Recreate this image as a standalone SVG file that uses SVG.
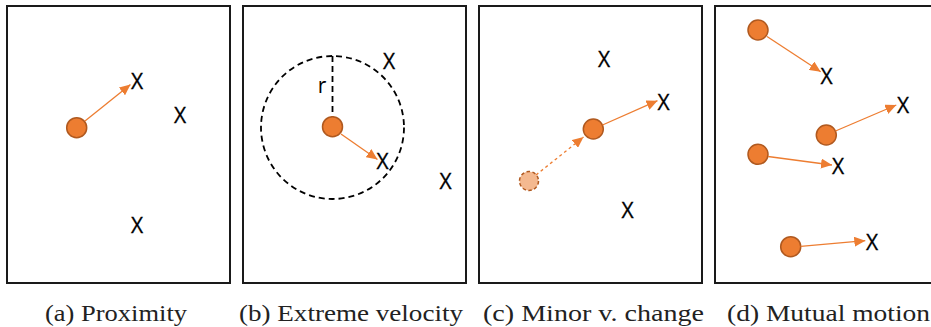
<svg xmlns="http://www.w3.org/2000/svg" width="931" height="327" viewBox="0 0 931 327">
<style>
.frame{fill:#fff;stroke:#1a1a1a;stroke-width:2}
.pt{fill:#ED7D31;stroke:#B0591F;stroke-width:1.5}
.ghost{fill:#F4B990;stroke:#B0591F;stroke-width:1.5;stroke-dasharray:3.5,2.5}
.arr{stroke:#ED7D31;stroke-width:1.3;fill:none;marker-end:url(#ah)}
.dash{stroke-dasharray:3,3}
.x{font-family:"Open Sans","Liberation Sans",sans-serif;font-size:21px;fill:#000;text-anchor:middle;stroke:#000;stroke-width:0.3}
.cap{font-family:"Liberation Serif","DejaVu Serif",serif;font-size:24px;fill:#222}
.rad{fill:none;stroke:#000;stroke-width:1.8;stroke-dasharray:6,4}
</style>
<defs>
<marker id="ah" markerUnits="userSpaceOnUse" markerWidth="11" markerHeight="10" refX="11" refY="5" orient="auto">
<path d="M0,0 L11,5 L0,10 z" fill="#ED7D31"/>
</marker>
</defs>
<rect width="931" height="327" fill="#fff"/>

<g id="panel-a">
<rect class="frame" x="7" y="6" width="223" height="277"/>
<circle id="a-pt" class="pt" cx="76.7" cy="127.7" r="10"/>
<text class="x" x="137" y="89.3">X</text>
<text class="x" x="180" y="122.6">X</text>
<text class="x" x="137" y="232.6">X</text>
</g>

<g id="panel-b">
<rect class="frame" x="243" y="6" width="223" height="277"/>
<circle class="rad" cx="332.5" cy="127.5" r="71.5"/>
<line class="rad" x1="332.5" y1="56" x2="332.5" y2="117"/>
<text class="x" x="322" y="93.3" style="stroke-width:0">r</text>
<circle id="b-pt" class="pt" cx="332.5" cy="126.7" r="10"/>
<text class="x" x="389" y="69.3">X</text>
<text class="x" x="382.5" y="169.3">X</text>
<text class="x" x="445.5" y="189.3">X</text>
</g>

<g id="panel-c">
<rect class="frame" x="479" y="6" width="223" height="277"/>
<circle id="c-ghost" class="ghost" cx="529" cy="181" r="9.5"/>
<circle id="c-pt" class="pt" cx="593.3" cy="129" r="10"/>
<text class="x" x="604" y="67">X</text>
<text class="x" x="663.5" y="110.3">X</text>
<text class="x" x="627.5" y="217.6">X</text>
</g>

<g id="panel-d">
<rect class="frame" x="715" y="6" width="223" height="277"/>
<circle id="d-pt1" class="pt" cx="758" cy="30" r="10"/>
<circle id="d-pt2" class="pt" cx="826.3" cy="135" r="10"/>
<circle id="d-pt3" class="pt" cx="758" cy="154.3" r="10"/>
<circle id="d-pt4" class="pt" cx="790.7" cy="246.7" r="10"/>
<text class="x" x="826.5" y="83.6">X</text>
<text class="x" x="903" y="112.6">X</text>
<text class="x" x="838" y="174.3">X</text>
<text class="x" x="872" y="250.3">X</text>
</g>

<g id="connectors">
<line class="arr" x1="85" y1="121" x2="130.5" y2="84.5"/>
<line class="arr" x1="341" y1="134" x2="377.5" y2="159.5"/>
<line class="arr dash" x1="536" y1="175" x2="583.5" y2="137"/>
<line class="arr" x1="602.5" y1="125" x2="657.5" y2="100.7"/>
<line class="arr" x1="767" y1="36.5" x2="820.7" y2="71.7"/>
<line class="arr" x1="835.5" y1="131" x2="896.3" y2="105"/>
<line class="arr" x1="768" y1="156.5" x2="832" y2="165"/>
<line class="arr" x1="800.7" y1="246.3" x2="865.3" y2="240.7"/>
</g>

<g id="captions">
<text class="cap" x="45" y="321" textLength="142" lengthAdjust="spacingAndGlyphs">(a) Proximity</text>
<text class="cap" x="239" y="321" textLength="224" lengthAdjust="spacingAndGlyphs">(b) Extreme velocity</text>
<text class="cap" x="483" y="321" textLength="221" lengthAdjust="spacingAndGlyphs">(c) Minor v. change</text>
<text class="cap" x="727" y="321" textLength="203" lengthAdjust="spacingAndGlyphs">(d) Mutual motion</text>
</g>
</svg>
